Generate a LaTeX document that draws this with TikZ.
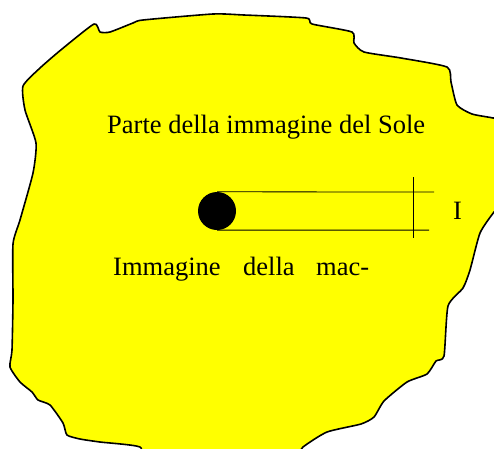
\documentclass[tikz,border=0pt]{standalone}
\usepackage{fontspec}
\setmainfont{Liberation Serif}
\definecolor{sunyellow}{RGB}{255,255,0}
\begin{document}
\begin{tikzpicture}[x=1pt,y=-1pt,
  outline/.style={draw=black,line width=1.6pt,fill=sunyellow,line join=round},
  thin/.style={draw=black,line width=0.8pt},
  lbl/.style={inner sep=0pt,anchor=base west,font=\fontsize{26.5}{30}\selectfont}]
\useasboundingbox (0,0) rectangle (494,448);
\clip (0,0) rectangle (494,448);
\draw[outline] plot[smooth cycle,tension=0.35] coordinates {
 (23,86) (40,68) (62,49) (94,24) (100,32) (110,32) (133,23) (143,20) (213,14)
 (244,15) (306,18) (312,24) (352,32) (354,43) (364,52) (401,58) (447,67)
 (451,82) (457,105) (472,114) (493,118) (505,122) (505,200) (494,212)
 (480,233) (470,270) (463,288) (448,306) (444,356) (436,361) (427,374)
 (407,382) (384,401) (374,417) (361,424) (327,432) (303,447) (285,465)
 (150,465) (140,447) (100,442) (80,439) (67,435) (63,423) (50,405) (38,400)
 (32,392) (20,382) (10,367) (12,350) (13,300) (13,244) (20,220) (33,173)
 (36,143) (25,110)};
\node[lbl] (parte) at (107,133) {Parte della immagine del Sole};
\node[lbl] (imm) at (113,275) {Immagine};
\node[lbl] (della) at (243,275) {della};
\node[lbl] (mac) at (316,275) {mac-};
\node[lbl] (ilab) at (453,219) {I};
\node[circle,fill=black,minimum size=38pt,inner sep=0pt] (spot) at (217,211) {};
\coordinate (t1) at (434,192);
\coordinate (b1) at (429,230);
\coordinate (v1) at (413,177);
\coordinate (v2) at (413,238);
\draw[thin] (spot.north) -- (t1);
\draw[thin,line width=1pt] (spot.south) -- (b1);
\draw[thin] (v1) -- (v2);
\end{tikzpicture}
\end{document}
